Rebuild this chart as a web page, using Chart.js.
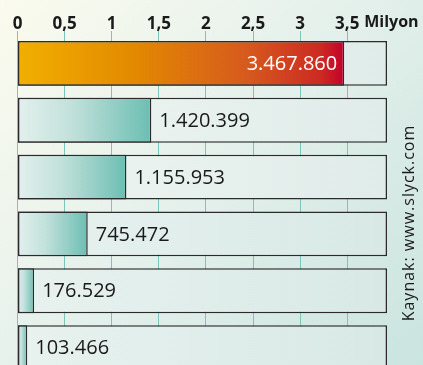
<!DOCTYPE html>
<html>
<head>
<meta charset="utf-8">
<script src="https://cdn.jsdelivr.net/npm/chart.js@4/dist/chart.umd.min.js"></script>
<style>
html,body{margin:0;padding:0;overflow:hidden;width:423px;height:365px;background:#e3efec;}
#wrap{position:absolute;left:0;top:0;width:423px;height:400px;}
</style>
</head>
<body>
<div id="wrap"><canvas id="c" width="423" height="400"></canvas></div>
<script>
// Data
const categories = ["1", "2", "3", "4", "5", "6"];
const valueLabels = ["3.467.860", "1.420.399", "1.155.953", "745.472", "176.529", "103.466"];
const valuesMillion = [3.467860, 1.420399, 1.155953, 0.745472, 0.176529, 0.103466];
const tickValues = [0, 0.5, 1, 1.5, 2, 2.5, 3, 3.5];
const tickLabels = ["0", "0,5", "1", "1,5", "2", "2,5", "3", "3,5"];
const unitLabel = "Milyon";
const sourceText = "Kaynak: www.slyck.com";
const xMax = 3.922;

const FONT = "'Open Sans', 'Noto Sans', sans-serif";

const bgPlugin = {
  id: 'bg',
  beforeDraw(chart) {
    const ctx = chart.ctx;
    const g = ctx.createLinearGradient(0, 0, 423, 365);
    g.addColorStop(0, '#fbfbee');
    g.addColorStop(0.45, '#e6f1ec');
    g.addColorStop(1, '#cae4df');
    ctx.save();
    ctx.fillStyle = g;
    ctx.fillRect(0, 0, chart.width, chart.height);
    ctx.restore();
  }
};

const textPlugin = {
  id: 'texts',
  afterDraw(chart) {
    const ctx = chart.ctx;
    const xs = chart.scales.x, ys = chart.scales.y;
    ctx.save();
    // value labels
    ctx.font = "20px " + FONT;
    ctx.textBaseline = 'middle';
    valuesMillion.forEach((v, i) => {
      const xe = xs.getPixelForValue(v);
      const yc = ys.getPixelForValue(i) + 1;
      if (i === 0) {
        ctx.fillStyle = '#ffffff';
        ctx.textAlign = 'right';
        ctx.fillText(valueLabels[i], xe - 7, yc);
      } else {
        ctx.fillStyle = '#1a1a1a';
        ctx.textAlign = 'left';
        ctx.fillText(valueLabels[i], xe + 8, yc);
      }
    });
    // unit label
    ctx.font = "bold 16px " + FONT;
    ctx.fillStyle = '#1a1a1a';
    ctx.textAlign = 'left';
    ctx.textBaseline = 'alphabetic';
    ctx.fillText(unitLabel, xs.getPixelForValue(3.5) + 17, 27);
    // source
    ctx.translate(409, 223);
    ctx.rotate(-Math.PI / 2);
    ctx.font = "16px " + FONT;
    try { ctx.letterSpacing = '1px'; } catch (e) {}
    ctx.textAlign = 'center';
    ctx.textBaseline = 'middle';
    ctx.fillStyle = '#1a1a1a';
    ctx.fillText(sourceText, 0, 0);
    ctx.restore();
  }
};

function barFill(context) {
  const chart = context.chart;
  const xs = chart.scales.x;
  if (!xs || xs.width === undefined) return '#7cc5bc';
  const i = context.dataIndex;
  const x0 = xs.getPixelForValue(0);
  const x1 = xs.getPixelForValue(valuesMillion[i]);
  const g = chart.ctx.createLinearGradient(x0, 0, x1, 0);
  if (i === 0) {
    g.addColorStop(0, '#f1b000');
    g.addColorStop(0.35, '#e38a00');
    g.addColorStop(0.7, '#d65a1e');
    g.addColorStop(0.93, '#cc2a22');
    g.addColorStop(1, '#c4002c');
  } else {
    g.addColorStop(0, '#e3f0ed');
    g.addColorStop(0.4, '#c2e1db');
    g.addColorStop(1, '#6cbeb2');
  }
  return g;
}

function frameFill(context) {
  const chart = context.chart;
  const xs = chart.scales.x;
  if (!xs || xs.width === undefined) return '#e6f0ed';
  const g = chart.ctx.createLinearGradient(xs.left, 0, xs.right, 0);
  const i = context.dataIndex;
  const t = i / 5;
  g.addColorStop(0, t < 0.5 ? '#eef5f1' : '#e8f2ef');
  g.addColorStop(1, t < 0.5 ? '#e0ecea' : '#d8e9e5');
  return g;
}

new Chart(document.getElementById('c'), {
  type: 'bar',
  data: {
    labels: categories,
    datasets: [
      {
        data: valuesMillion,
        backgroundColor: barFill,
        borderColor: '#2b2b2b',
        borderWidth: 1.5,
        borderSkipped: false,
        grouped: false,
        barPercentage: 1,
        categoryPercentage: 0.79
      },
      {
        data: categories.map(() => xMax),
        backgroundColor: frameFill,
        borderColor: '#2b2b2b',
        borderWidth: 1.5,
        borderSkipped: false,
        grouped: false,
        barPercentage: 1,
        categoryPercentage: 0.79
      }
    ]
  },
  options: {
    indexAxis: 'y',
    responsive: false,
    animation: false,
    layout: { padding: { left: 17.5, right: 36, top: 0, bottom: 24 } },
    plugins: { legend: { display: false }, tooltip: { enabled: false } },
    scales: {
      x: {
        position: 'top',
        min: 0,
        max: xMax,
        afterBuildTicks(scale) { scale.ticks = tickValues.map(v => ({ value: v })); },
        afterFit(scale) { scale.height = 35; },
        ticks: {
          callback: (v, i) => tickLabels[i],
          font: { family: FONT, size: 17, weight: 'bold' },
          color: '#1a1a1a',
          padding: -3,
          maxRotation: 0,
          autoSkip: false
        },
        grid: { color: '#7cc5bc', lineWidth: 1, tickLength: 4, drawOnChartArea: true },
        border: { display: false }
      },
      y: { display: false }
    }
  },
  plugins: [bgPlugin, textPlugin]
});
</script>
</body>
</html>
